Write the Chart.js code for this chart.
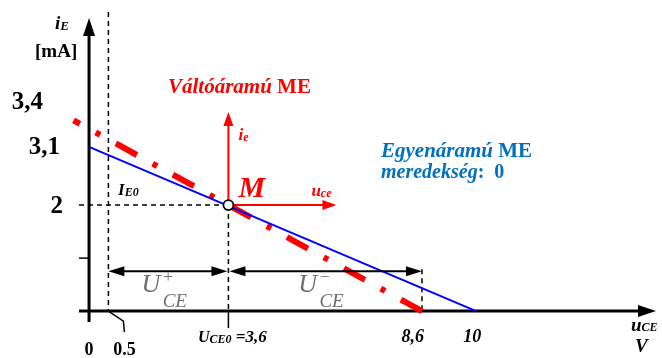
<!DOCTYPE html>
<html>
<head>
<meta charset="utf-8">
<script src="https://cdn.jsdelivr.net/npm/chart.js@4"></script>
<style>
  html, body { margin: 0; padding: 0; background: #fff; }
  canvas { display: block; }
</style>
</head>
<body>
<canvas id="chart" width="662" height="358"></canvas>
<script>
// values (u_CE in V, i_E in mA)
const dcLineU = [0, 10];
const dcLineI = [3.1, 0];
const acLineU = [8.6, -0.4];
const acLineI = [0, 3.6];
const qPointU = [3.6];
const qPointI = [2];
const swingU = [0.5, 3.6, 8.6];
const swingLevel = 0.75;
const xTickValues = [0, 0.5, 3.6, 8.6, 10];
const yTickValues = [1, 2, 3.1, 3.4];
const yTickLabels = ['', '2', '3,1', '3,4'];

const SERIF = '"Liberation Serif", "DejaVu Serif", serif';
const RED = '#ff0000';
const BLUE = '#0000ff';
const TEAL = '#0070c0';
const GREY = '#6e6e6e';

const toPoints = (us, is) => us.map((u, k) => ({ x: u, y: is[k] }));

// draw a row of text pieces (for sub/superscripts)
function runs(ctx, x, y, parts, color, align) {
  ctx.save();
  ctx.fillStyle = color || '#000';
  ctx.textBaseline = 'alphabetic';
  ctx.textAlign = 'left';
  let w = 0;
  parts.forEach(p => {
    ctx.font = p.font;
    w += ctx.measureText(p.t).width;
  });
  let cx = x;
  if (align === 'center') cx = x - w / 2;
  if (align === 'right') cx = x - w;
  parts.forEach(p => {
    ctx.font = p.font;
    ctx.fillText(p.t, cx + (p.dx || 0), y + (p.dy || 0));
    cx += ctx.measureText(p.t).width;
  });
  ctx.restore();
}

function arrowHead(ctx, x, y, angle, len, half, color) {
  ctx.save();
  ctx.fillStyle = color;
  ctx.translate(x, y);
  ctx.rotate(angle);
  ctx.beginPath();
  ctx.moveTo(0, 0);
  ctx.lineTo(-len, -half);
  ctx.lineTo(-len, half);
  ctx.closePath();
  ctx.fill();
  ctx.restore();
}

function line(ctx, x1, y1, x2, y2, width, color, dash) {
  ctx.save();
  ctx.strokeStyle = color;
  ctx.lineWidth = width;
  ctx.setLineDash(dash || []);
  ctx.beginPath();
  ctx.moveTo(x1, y1);
  ctx.lineTo(x2, y2);
  ctx.stroke();
  ctx.restore();
}

const bi = s => `italic bold ${s}px ${SERIF}`;
const b = s => `bold ${s}px ${SERIF}`;
const it = s => `italic ${s}px ${SERIF}`;

const axesPlugin = {
  id: 'axes',
  beforeDatasetsDraw(chart) {
    const ctx = chart.ctx;
    const X = v => chart.scales.x.getPixelForValue(v);
    const Y = v => chart.scales.y.getPixelForValue(v);
    const x0 = X(0), y0 = Y(0);
    const qx = X(qPointU[0]), qy = Y(qPointI[0]);
    const dash = [5, 4];

    // guide lines
    line(ctx, X(swingU[0]), 12, X(swingU[0]), y0, 1.5, '#000', dash);
    line(ctx, x0 - 10, qy, qx, qy, 1.5, '#000', dash);
    line(ctx, qx, qy, qx, y0, 1.5, '#000', dash);
    line(ctx, X(swingU[2]), Y(swingLevel) - 2, X(swingU[2]), y0, 1.5, '#000', dash);

    // axes
    line(ctx, x0, y0 + 11, x0, 32, 3, '#000');
    arrowHead(ctx, x0, 18, -Math.PI / 2, 18, 6, '#000');
    line(ctx, x0 - 10, y0, 640, y0, 3, '#000');
    arrowHead(ctx, 656, y0, 0, 18, 6, '#000');

    // ticks
    line(ctx, x0 - 10, Y(yTickValues[0]), x0, Y(yTickValues[0]), 1.5, '#000');
    line(ctx, qx, y0, qx, y0 + 17, 1.5, '#000');
    ctx.save();
    ctx.strokeStyle = '#000';
    ctx.lineWidth = 1.5;
    ctx.beginPath();
    ctx.moveTo(X(swingU[0]), y0);
    ctx.lineTo(X(swingU[0]) + 15, y0 + 10);
    ctx.lineTo(X(swingU[0]) + 16, y0 + 21);
    ctx.stroke();
    ctx.restore();
  },
  afterDatasetsDraw(chart) {
    const ctx = chart.ctx;
    const X = v => chart.scales.x.getPixelForValue(v);
    const Y = v => chart.scales.y.getPixelForValue(v);
    const x0 = X(0), y0 = Y(0);
    const qx = X(qPointU[0]), qy = Y(qPointI[0]);

    // swing arrows
    const sy = Y(swingLevel);
    const sL = X(swingU[0]), sR = X(swingU[2]);
    line(ctx, sL + 10, sy, qx - 10, sy, 2, '#000');
    line(ctx, qx + 10, sy, sR - 10, sy, 2, '#000');
    arrowHead(ctx, sL, sy, Math.PI, 16, 5, '#000');
    arrowHead(ctx, qx - 1, sy, 0, 16, 5, '#000');
    arrowHead(ctx, qx + 1, sy, Math.PI, 16, 5, '#000');
    arrowHead(ctx, sR, sy, 0, 16, 5, '#000');

    // small-signal axes at M
    line(ctx, qx, qy, qx, qy - 80, 2, RED);
    arrowHead(ctx, qx, qy - 93, -Math.PI / 2, 14, 5, RED);
    line(ctx, qx, qy, qx + 96, qy, 2, RED);
    arrowHead(ctx, qx + 108, qy, 0, 14, 5, RED);

    // operating point
    ctx.save();
    ctx.beginPath();
    ctx.arc(qx, qy, 5, 0, Math.PI * 2);
    ctx.fillStyle = '#fff';
    ctx.fill();
    ctx.lineWidth = 1.8;
    ctx.strokeStyle = '#000';
    ctx.stroke();
    ctx.restore();

    // y axis texts
    runs(ctx, 55, 29, [{ t: 'i', font: bi(19) }, { t: 'E', font: bi(13), dy: 1 }]);
    runs(ctx, 35, 57, [{ t: '[mA]', font: b(19) }]);
    runs(ctx, 43, Y(yTickValues[3]) - 22, [{ t: yTickLabels[3], font: b(25) }], '#000', 'right');
    runs(ctx, 60, Y(yTickValues[2]) + 7, [{ t: yTickLabels[2], font: b(25) }], '#000', 'right');
    runs(ctx, 63, Y(yTickValues[1]) + 8, [{ t: yTickLabels[1], font: b(25) }], '#000', 'right');

    // x axis texts
    runs(ctx, x0, y0 + 44, [{ t: String(xTickValues[0]), font: b(18) }], '#000', 'center');
    runs(ctx, X(xTickValues[1]) + 16, y0 + 44, [{ t: String(xTickValues[1]), font: b(18) }], '#000', 'center');
    runs(ctx, X(xTickValues[2]) + 4, y0 + 31, [
      { t: 'U', font: bi(16) }, { t: 'CE0', font: bi(12), dy: 1 }, { t: ' =3,6', font: bi(17) }
    ], '#000', 'center');
    runs(ctx, X(xTickValues[3]) + 2, y0 + 31, [{ t: '8,6', font: bi(18) }], '#000', 'right');
    runs(ctx, X(xTickValues[4]) - 4, y0 + 31, [{ t: '10', font: bi(18) }], '#000', 'center');
    runs(ctx, 631, y0 + 20, [{ t: 'u', font: bi(19) }, { t: 'CE', font: bi(12) }]);
    runs(ctx, 635, y0 + 41, [{ t: 'V', font: bi(19) }]);

    // labels
    runs(ctx, x0 + 29, qy - 10, [{ t: 'I', font: bi(17) }, { t: 'E0', font: bi(12), dy: 1 }]);
    runs(ctx, qx + 10, qy - 8, [{ t: 'M', font: bi(30) }], RED);
    runs(ctx, qx + 10, qy - 65, [{ t: 'i', font: bi(17) }, { t: 'e', font: bi(12), dy: 1 }], RED);
    runs(ctx, qx + 83, qy - 9, [{ t: 'u', font: bi(17) }, { t: 'ce', font: bi(12), dy: 1 }], RED);
    runs(ctx, 168, 93, [{ t: 'Váltóáramú', font: bi(21) }, { t: ' ME', font: b(21) }], RED);
    runs(ctx, 381, 157, [{ t: 'Egyenáramú', font: bi(21) }, { t: ' ME', font: b(21) }], TEAL);
    runs(ctx, 381, 178, [{ t: 'meredekség', font: bi(20) }, { t: ':  0', font: b(20) }], TEAL);

    // swing labels
    const swingLabel = (x, sign) => runs(ctx, x, sy + 21, [
      { t: 'U', font: it(26) },
      { t: sign, font: it(17), dy: -10, dx: 2 },
      { t: 'CE', font: it(19), dy: 15, dx: -9 }
    ], GREY);
    swingLabel((sL + qx) / 2 - 27, '+');
    swingLabel((qx + sR) / 2 - 27, '\u2212');
  }
};

new Chart(document.getElementById('chart'), {
  type: 'scatter',
  data: {
    datasets: [
      {
        label: 'Egyenáramú ME',
        data: toPoints(dcLineU, dcLineI),
        showLine: true,
        borderColor: BLUE,
        borderWidth: 2,
        pointRadius: 0
      },
      {
        label: 'Váltóáramú ME',
        data: toPoints(acLineU, acLineI),
        showLine: true,
        borderColor: RED,
        borderWidth: 6,
        borderDash: [24, 18, 5, 18],
        borderCapStyle: 'butt',
        pointRadius: 0
      }
    ]
  },
  options: {
    responsive: false,
    animation: false,
    layout: { padding: 0 },
    plugins: { legend: { display: false }, tooltip: { enabled: false } },
    scales: {
      x: { type: 'linear', min: -2.3, max: 14.8, display: false },
      y: { type: 'linear', min: -0.885, max: 5.87, display: false }
    }
  },
  plugins: [axesPlugin]
});
</script>
</body>
</html>
